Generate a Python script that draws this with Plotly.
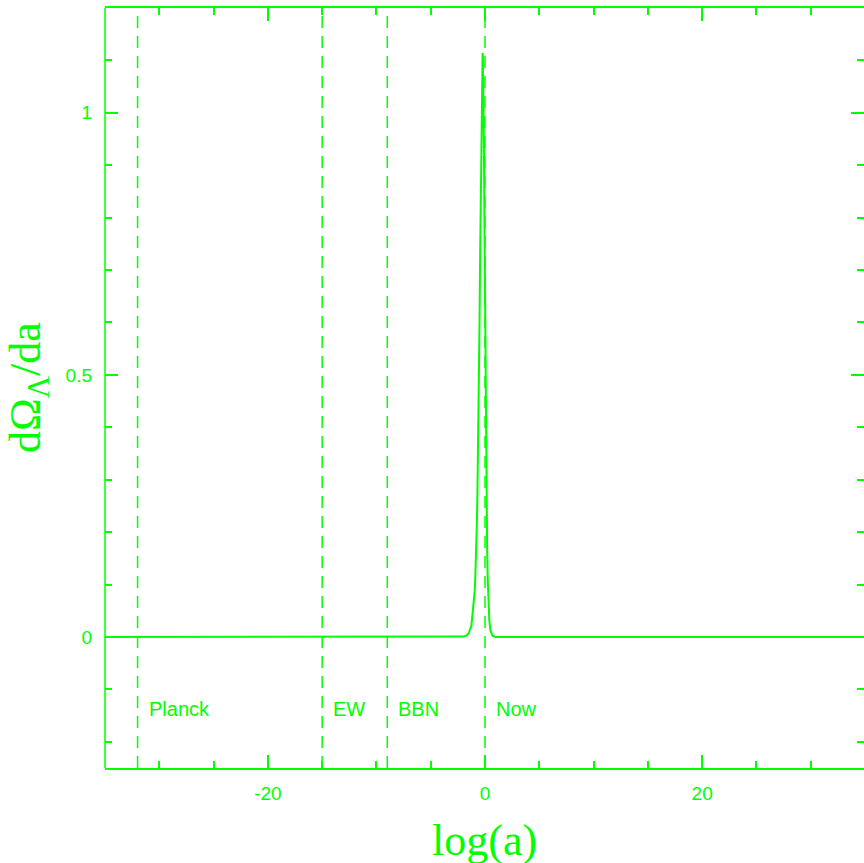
import plotly.graph_objects as go

# ---- data ----
log_a = [-35, -10, -3, -2.0, -1.75, -1.5, -1.25, -1.0, -0.95, -0.9, -0.85, -0.8,
         -0.75, -0.7, -0.65, -0.6, -0.55, -0.5, -0.45, -0.4, -0.35, -0.3, -0.25,
         -0.22, -0.2, -0.15, -0.1, -0.05, 0.0, 0.05, 0.1, 0.15, 0.2, 0.25, 0.3,
         0.35, 0.4, 0.5, 0.6, 0.7, 1.0, 3, 10, 35]
d_omega_lambda_da = [0.0, 0.0, 0.0, 0.0007, 0.0022, 0.007, 0.022, 0.070, 0.0875, 0.110,
                     0.138, 0.173, 0.215, 0.269, 0.333, 0.411, 0.502, 0.607, 0.723,
                     0.843, 0.957, 1.051, 1.106, 1.114, 1.108, 1.050, 0.939, 0.791,
                     0.630, 0.478, 0.347, 0.243, 0.166, 0.111, 0.073, 0.0475, 0.031,
                     0.0125, 0.005, 0.002, 0.0001, 0.0, 0.0, 0.0]

epoch_names = ["Planck", "EW", "BBN", "Now"]
epoch_log_a = [-32, -15, -9, 0]

x_major_ticks = [-20, 0, 20]
x_minor_ticks = [-30, -25, -15, -10, -5, 5, 10, 15, 25, 30]
y_major_ticks = [0, 0.5, 1]
y_minor_ticks = [-0.2, -0.1, 0.1, 0.2, 0.3, 0.4, 0.6, 0.7, 0.8, 0.9, 1.1]

GREEN = "#00ff00"
SANS = "Liberation Sans, Arial, sans-serif"
SERIF = "Liberation Serif, Times New Roman, serif"

fig = go.Figure()
fig.add_trace(go.Scatter(x=log_a, y=d_omega_lambda_da, mode="lines",
                         line=dict(color=GREEN, width=2), showlegend=False,
                         hoverinfo="skip"))

for name, xv in zip(epoch_names, epoch_log_a):
    fig.add_shape(type="line", xref="x", yref="paper", x0=xv, x1=xv, y0=0, y1=1,
                  line=dict(color=GREEN, width=1.5, dash="12px,8px"), layer="above")
    fig.add_annotation(x=xv, y=-0.138, xref="x", yref="y", text=name,
                       showarrow=False, xanchor="left", yanchor="middle", xshift=9,
                       font=dict(family=SANS, size=20, color=GREEN))

# left spine
fig.add_shape(type="line", xref="paper", yref="paper", x0=0, x1=0, y0=0, y1=1,
              line=dict(color=GREEN, width=1.5))

fig.add_annotation(x=0.5, y=0, xref="paper", yref="paper", text="log(a)",
                   showarrow=False, xanchor="center", yanchor="middle", yshift=-72,
                   font=dict(family=SERIF, size=44, color=GREEN))
fig.add_annotation(x=0, y=0.5, xref="paper", yref="paper",
                   text="dΩ<sub>Λ</sub>/da", textangle=-90,
                   showarrow=False, xanchor="center", yanchor="middle", xshift=-77,
                   font=dict(family=SERIF, size=44, color=GREEN))

fig.update_layout(
    width=864, height=863,
    margin=dict(l=105, r=0, t=8, b=95),
    paper_bgcolor="white", plot_bgcolor="white",
    xaxis=dict(range=[-35, 34.908], showline=True, linecolor=GREEN, linewidth=1.5,
               mirror="ticks", ticks="inside", ticklen=13, tickwidth=1.5,
               tickcolor=GREEN, tickvals=x_major_ticks,
               ticktext=[str(v) for v in x_major_ticks],
               minor=dict(tickvals=x_minor_ticks, ticks="inside", ticklen=7,
                          tickwidth=1.5, tickcolor=GREEN, showgrid=False),
               tickfont=dict(family=SANS, size=19, color=GREEN),
               ticklabelstandoff=7,
               showgrid=False, zeroline=False),
    yaxis=dict(range=[-0.25, 1.2], showline=False, linecolor=GREEN, linewidth=1.5,
               mirror="ticks", ticks="inside", ticklen=13, tickwidth=1.5,
               tickcolor=GREEN, tickvals=y_major_ticks,
               ticktext=["0", "0.5", "1"],
               minor=dict(tickvals=y_minor_ticks, ticks="inside", ticklen=7,
                          tickwidth=1.5, tickcolor=GREEN, showgrid=False),
               tickfont=dict(family=SANS, size=19, color=GREEN),
               ticklabelstandoff=12,
               showgrid=False, zeroline=False),
)

fig.write_html("out.html", config={"displayModeBar": False},
               post_script="document.body.style.margin='0px';document.body.style.overflow='hidden';")
